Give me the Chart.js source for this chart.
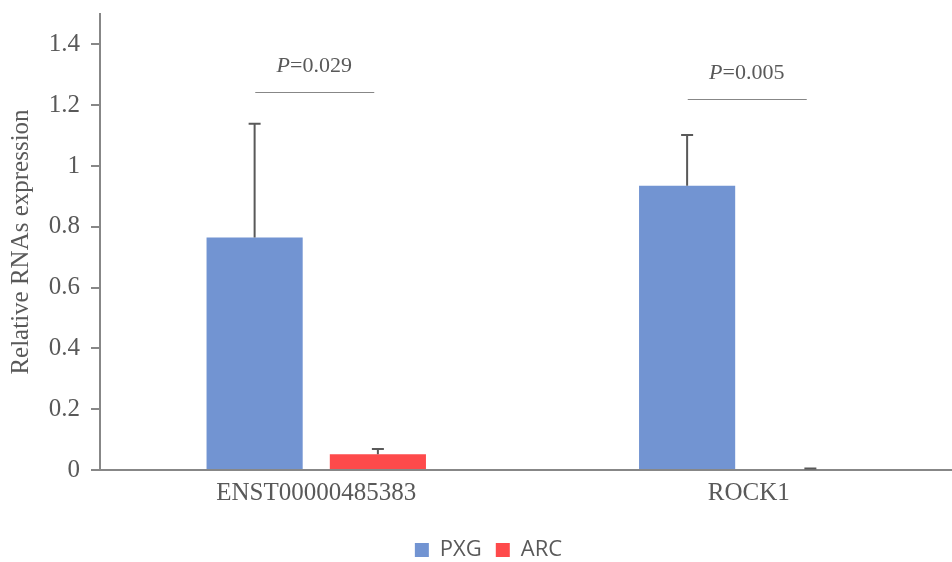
<!DOCTYPE html>
<html>
<head>
<meta charset="utf-8">
<script src="https://cdn.jsdelivr.net/npm/chart.js@4.4.0/dist/chart.umd.min.js"></script>
<style>
  html, body { margin: 0; padding: 0; background: #fff; overflow: hidden; }
  #wrap { width: 965px; height: 562px; }
</style>
</head>
<body>
<div id="wrap"><canvas id="chart"></canvas></div>
<script>
const categories = ['ENST00000485383', 'ROCK1'];
const pxgValues = [0.765, 0.935];
const pxgErrors = [0.374, 0.167];
const arcValues = [0.052, 0.003];
const arcErrors = [0.017, 0.002];
const pLabels = ['0.029', '0.005'];
const yTicks = [0, 0.2, 0.4, 0.6, 0.8, 1, 1.2, 1.4];

const grey = '#595959';
const axisGrey = '#878787';

// upward-only error bars like the Excel original
const errorBars = {
  id: 'errorBars',
  afterDatasetsDraw(chart) {
    const ctx = chart.ctx;
    const y = chart.scales.y;
    ctx.save();
    ctx.strokeStyle = grey;
    ctx.lineWidth = 2;
    chart.data.datasets.forEach((ds, di) => {
      const meta = chart.getDatasetMeta(di);
      meta.data.forEach((bar, i) => {
        const top = y.getPixelForValue(ds.data[i] + ds.errors[i]);
        ctx.beginPath();
        ctx.moveTo(bar.x, bar.y);
        ctx.lineTo(bar.x, top);
        ctx.moveTo(bar.x - 6, top);
        ctx.lineTo(bar.x + 6, top);
        ctx.stroke();
      });
    });
    ctx.restore();
  }
};

// P value text + bracket line above each group
const pNotes = {
  id: 'pNotes',
  afterDatasetsDraw(chart, args, opts) {
    const ctx = chart.ctx;
    const x = chart.scales.x;
    const y = chart.scales.y;
    ctx.save();
    pLabels.forEach((p, i) => {
      const xc = x.getPixelForValue(i);
      const ly = Math.round(y.getPixelForValue(opts.levels[i])) + 0.5;
      ctx.strokeStyle = axisGrey;
      ctx.lineWidth = 1;
      ctx.beginPath();
      ctx.moveTo(xc - 61, ly);
      ctx.lineTo(xc + 58, ly);
      ctx.stroke();

      ctx.fillStyle = grey;
      ctx.textBaseline = 'alphabetic';
      ctx.font = 'italic 22px "Liberation Serif"';
      const wP = ctx.measureText('P').width;
      ctx.font = '22px "Liberation Serif"';
      const rest = '=' + p;
      const wR = ctx.measureText(rest).width;
      let tx = xc - 2 - (wP + wR) / 2;
      ctx.font = 'italic 22px "Liberation Serif"';
      ctx.fillText('P', tx, ly - 21);
      ctx.font = '22px "Liberation Serif"';
      ctx.fillText(rest, tx + wP, ly - 21);
    });
    ctx.restore();
  }
};

// nudge legend to where it sits in the original
const legendShift = {
  id: 'legendShift',
  afterLayout(chart) {
    chart.legend.left += 6;
    chart.legend.right += 6;
    chart.legend.top += 9;
    chart.legend.bottom += 9;
  }
};

new Chart(document.getElementById('chart'), {
  type: 'bar',
  data: {
    labels: categories,
    datasets: [
      {
        label: 'PXG',
        data: pxgValues,
        errors: pxgErrors,
        backgroundColor: '#7294d2',
        categoryPercentage: 0.57,
        barPercentage: 0.78
      },
      {
        label: 'ARC',
        data: arcValues,
        errors: arcErrors,
        backgroundColor: '#fe4a4b',
        categoryPercentage: 0.57,
        barPercentage: 0.78
      }
    ]
  },
  options: {
    responsive: true,
    maintainAspectRatio: false,
    animation: false,
    layout: { padding: { top: 14, right: 0, left: 0, bottom: 0 } },
    plugins: {
      tooltip: { enabled: false },
      pNotes: { levels: [1.243, 1.219] },
      legend: {
        position: 'bottom',
        labels: {
          boxWidth: 14,
          boxHeight: 14,
          padding: 14,
          color: grey,
          font: { family: '"Open Sans", "Liberation Sans", sans-serif', size: 22 }
        }
      }
    },
    scales: {
      x: {
        grid: { display: false, drawTicks: false },
        border: { color: axisGrey, width: 2 },
        ticks: {
          color: grey,
          padding: 8,
          font: { family: '"Liberation Serif", serif', size: 25 }
        }
      },
      y: {
        min: 0,
        max: 1.5,
        afterBuildTicks(scale) {
          scale.ticks = yTicks.map(v => ({ value: v }));
        },
        afterFit(scale) {
          scale.width = 100;
          scale.paddingTop = 0;
          scale.paddingBottom = 0;
        },
        grid: { drawOnChartArea: false, drawTicks: true, tickLength: 9, color: axisGrey, lineWidth: 2 },
        border: { color: axisGrey, width: 2 },
        ticks: {
          color: grey,
          padding: 11,
          font: { family: '"Liberation Serif", serif', size: 25 },
          callback: v => String(+v.toFixed(1))
        },
        title: {
          display: true,
          text: 'Relative RNAs expression',
          color: grey,
          padding: { top: 6, bottom: 0 },
          font: { family: '"Liberation Serif", serif', size: 25 }
        }
      }
    }
  },
  plugins: [errorBars, pNotes, legendShift]
});
</script>
</body>
</html>
